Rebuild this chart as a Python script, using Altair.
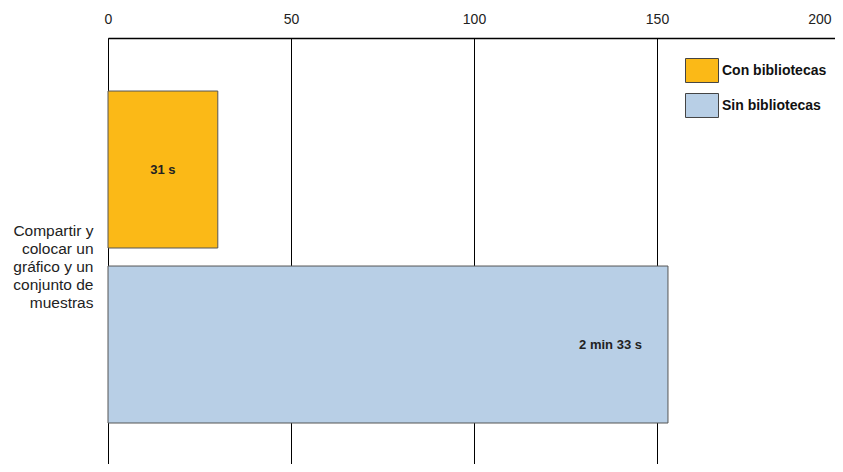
import altair as alt
import pandas as pd

# --- data ---
category_lines = ["Compartir y", "colocar un", "gráfico y un", "conjunto de", "muestras"]
series = ["Con bibliotecas", "Sin bibliotecas"]
values = [30, 153]          # seconds
value_labels = ["31 s", "2 min 33 s"]
colors = ["#FBB917", "#B8CFE6"]
x_ticks = [0, 50, 100, 150, 200]

category = "\n".join(category_lines)
df = pd.DataFrame({
    "categoria": [category] * len(series),
    "serie": series,
    "valor": values,
    "etiqueta": value_labels,
})

FONT = "Liberation Sans"
last_tick = x_ticks[-1]

x_enc = alt.X(
    "valor:Q",
    scale=alt.Scale(domain=[0, 200], nice=False, range=[0, 732]),
    axis=alt.Axis(
        orient="top", values=x_ticks, grid=True, gridColor="black", gridOpacity=1,
        gridWidth=1, ticks=False, labelFontSize=14, labelPadding=12,
        domainColor="black", domainWidth=1.5, labelColor="#222", title=None,
        labelFont=FONT, labelFlush=False, labelOverlap=False,
        labelAlign=alt.condition(f"datum.value == {last_tick}", alt.value("right"), alt.value("center")),
        labelOffset=alt.condition(f"datum.value == {last_tick}", alt.value(-9), alt.value(0)),
    ),
)
y_enc = alt.Y(
    "categoria:N",
    scale=alt.Scale(paddingInner=0, paddingOuter=0.1416, align=0.564),
    axis=alt.Axis(
        title=None, ticks=False, domainColor="black", domainWidth=1,
        labelExpr="split(datum.label, '\\n')", labelFontSize=15.5, labelLineHeight=18,
        labelAlign="right", labelBaseline="middle", labelPadding=15, labelOffset=-26,
        labelColor="#222", labelFont=FONT, labelLimit=200,
    ),
)
yoff_enc = alt.YOffset("serie:N", sort=series,
                       scale=alt.Scale(paddingInner=0.1029, paddingOuter=0))

base = alt.Chart(df)

bars = base.mark_bar(stroke="#555", strokeWidth=1).encode(
    x=x_enc,
    y=y_enc,
    yOffset=yoff_enc,
    color=alt.Color(
        "serie:N",
        scale=alt.Scale(domain=series, range=colors),
        legend=alt.Legend(
            title=None, orient="none", legendX=577, legendY=15.5,
            symbolType="M-1,-0.727H1V0.727H-1Z", symbolSize=1089,
            symbolStrokeColor="#444", symbolStrokeWidth=1, symbolOpacity=1,
            labelFontSize=14, labelFontWeight="bold", labelColor="#111",
            labelFont=FONT, labelOffset=3, rowPadding=4, padding=0,
        ),
    ),
)

text_mid = base.transform_filter(
    alt.datum.serie == series[0]
).transform_calculate(mid="datum.valor / 2").mark_text(
    fontSize=13, fontWeight="bold", color="#222", font=FONT
).encode(
    x="mid:Q", y="categoria:N", yOffset=alt.YOffset("serie:N", sort=series), text="etiqueta:N"
)

text_end = base.transform_filter(
    alt.datum.serie == series[1]
).mark_text(
    fontSize=13, fontWeight="bold", color="#222", font=FONT, align="right", dx=-26
).encode(
    x="valor:Q", y="categoria:N", yOffset=alt.YOffset("serie:N", sort=series), text="etiqueta:N"
)

chart = alt.layer(bars, text_mid, text_end).properties(
    width=727, height=426,
    autosize=alt.AutoSizeParams(type="none"),
    padding={"left": 100, "top": 30, "right": 0, "bottom": 0},
).configure_view(stroke=None)

chart.save("out.html", embed_options={"renderer": "svg", "actions": False})
